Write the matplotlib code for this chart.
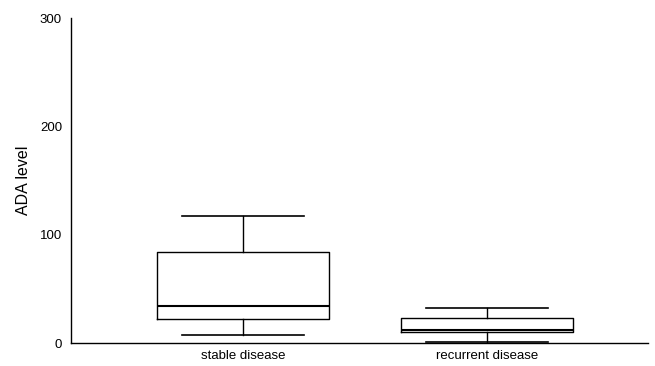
import matplotlib
matplotlib.use("Agg")
import matplotlib.pyplot as plt

groups = ["stable disease", "recurrent disease"]
whisker_low = [7, 1]
q1 = [22, 10]
median = [34, 12]
q3 = [84, 23]
whisker_high = [117, 32]
y_ticks = [0, 100, 200, 300]

plt.rcParams["font.family"] = ["Liberation Sans", "DejaVu Sans"]

stats = []
for i, name in enumerate(groups):
    stats.append({
        "label": name,
        "whislo": whisker_low[i],
        "q1": q1[i],
        "med": median[i],
        "q3": q3[i],
        "whishi": whisker_high[i],
        "fliers": [],
    })

fig = plt.figure(figsize=(6.55, 3.66), dpi=100)
ax = fig.add_axes([0.1084, 0.0628, 0.8806, 0.888])

ax.bxp(stats, positions=[1, 2], widths=0.705, capwidths=0.5,
       showfliers=False, patch_artist=False,
       boxprops=dict(color="black", linewidth=1.0),
       whiskerprops=dict(color="black", linewidth=1.0),
       capprops=dict(color="black", linewidth=1.2),
       medianprops=dict(color="black", linewidth=1.5))

ax.set_xlim(0.295, 2.66)
ax.set_ylim(0, 300)
ax.set_yticks(y_ticks)
ax.set_yticklabels([str(t) for t in y_ticks], fontsize=9.5)
ax.tick_params(axis="both", length=0)
ax.tick_params(axis="y", pad=6.5)
ax.tick_params(axis="x", labelsize=9.5, pad=5)
ax.set_ylabel("ADA level", fontsize=11.5, labelpad=6)

for s in ["top", "right"]:
    ax.spines[s].set_visible(False)
for s in ["left", "bottom"]:
    ax.spines[s].set_linewidth(1.0)
    ax.spines[s].set_color("black")

fig.savefig("out.png", dpi=100)
